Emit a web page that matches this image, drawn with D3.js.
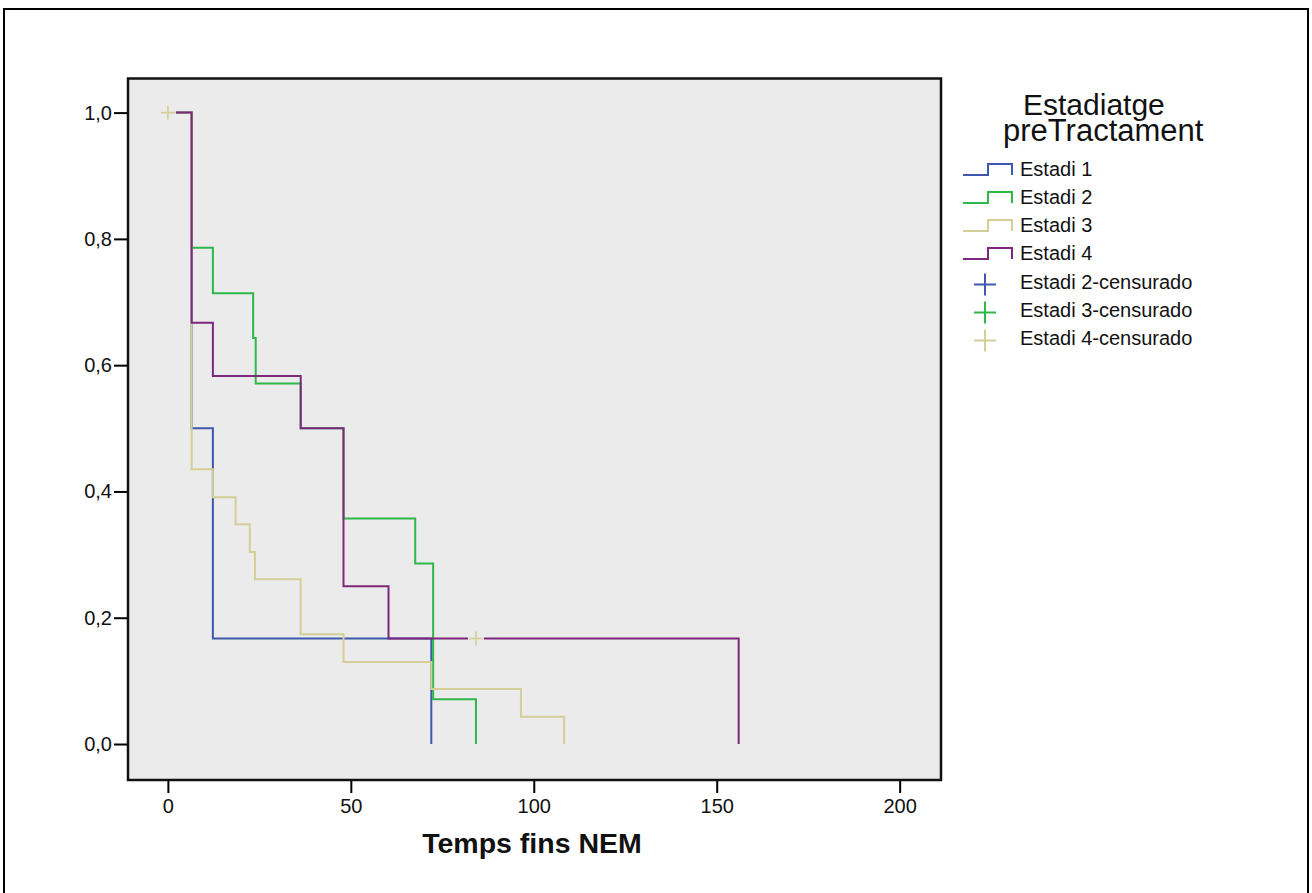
<!DOCTYPE html>
<html>
<head>
<meta charset="utf-8">
<script src="https://cdn.jsdelivr.net/npm/d3@7"></script>
<style>
  body { margin: 0; background: #fff; }
  text { font-family: "Liberation Sans", Arial, sans-serif; fill: #111; }
</style>
</head>
<body>
<div id="chart"></div>
<script>
// Kaplan-Meier steps (time, survival)
const groups = ["Estadi 1", "Estadi 2", "Estadi 3", "Estadi 4"];
const colours = ["#3E58AC", "#2EB848", "#D4CE97", "#7C287D"];

const times1 = [0, 6.5, 12.3, 72];
const surv1 = [1, 0.5, 0.167, 0];

const times2 = [0, 6.5, 12.3, 23.3, 24, 36.3, 48, 67.6, 72.5, 84.2];
const surv2 = [1, 0.786, 0.714, 0.643, 0.571, 0.5, 0.357, 0.286, 0.071, 0];

const times3 = [0, 6.5, 12.3, 18.5, 22.4, 23.8, 36.3, 48, 72, 96.5, 108.3];
const surv3 = [1, 0.435, 0.391, 0.348, 0.304, 0.261, 0.174, 0.130, 0.087, 0.043, 0];

const times4 = [0, 6.5, 12.3, 36.3, 48, 60.3, 156];
const surv4 = [1, 0.667, 0.583, 0.5, 0.25, 0.167, 0];

// censored observations (Estadi 4)
const censTimes = [0, 84.2];
const censSurv = [1, 0.167];

const legendCens = ["Estadi 2-censurado", "Estadi 3-censurado", "Estadi 4-censurado"];
const censColours = ["#3E58AC", "#2EB848", "#D4CE97"];

const xTicks = [0, 50, 100, 150, 200];
const yTicks = [0, 0.2, 0.4, 0.6, 0.8, 1.0];

const series = [
    { times: times1, surv: surv1 },
    { times: times2, surv: surv2 },
    { times: times3, surv: surv3 },
    { times: times4, surv: surv4 }
];

const W = 1312, H = 893;
const plot = { left: 128, right: 941, top: 78.5, bottom: 780 };

const svg = d3.select('#chart')
    .append('svg')
    .attr('width', W)
    .attr('height', H);

// outer frame
svg.append('rect')
    .attr('x', 4).attr('y', 9)
    .attr('width', 1304).attr('height', 900)
    .attr('fill', 'none')
    .attr('stroke', '#000')
    .attr('stroke-width', 2);

const x = d3.scaleLinear()
    .domain([-10.9, 211.3])
    .range([plot.left, plot.right]);

const y = d3.scaleLinear()
    .domain([-0.057, 1.054])
    .range([plot.bottom, plot.top]);

// plot background
svg.append('rect')
    .attr('x', plot.left).attr('y', plot.top)
    .attr('width', plot.right - plot.left)
    .attr('height', plot.bottom - plot.top)
    .attr('fill', '#ebebeb');

const comma = d3.formatLocale({ decimal: ",", thousands: ".", grouping: [3], currency: ["", "€"] });

// X axis
const xAxis = svg.append('g')
    .attr('transform', `translate(0, ${plot.bottom})`)
    .call(d3.axisBottom(x).tickValues(xTicks).tickSize(13).tickPadding(6).tickFormat(d3.format('d')));
xAxis.select('.domain').remove();
xAxis.selectAll('line').attr('stroke', '#000').attr('stroke-width', 2);
xAxis.selectAll('text').style('font-size', '20px').attr('fill', '#111');

// Y axis
const yAxis = svg.append('g')
    .attr('transform', `translate(${plot.left}, 0)`)
    .call(d3.axisLeft(y).tickValues(yTicks).tickSize(14).tickPadding(2).tickFormat(comma.format('.1f')));
yAxis.select('.domain').remove();
yAxis.selectAll('line').attr('stroke', '#000').attr('stroke-width', 2);
yAxis.selectAll('text').style('font-size', '20px').attr('fill', '#111');

// survival curves
const line = d3.line()
    .x(d => x(d[0]))
    .y(d => y(d[1]))
    .curve(d3.curveStepAfter);

series.forEach((s, i) => {
    svg.append('path')
        .datum(s.times.map((t, j) => [t, s.surv[j]]))
        .attr('d', line)
        .attr('fill', 'none')
        .attr('stroke', colours[i])
        .attr('stroke-width', 2);
});

// censored marks, with a small gap cut into the line
censTimes.forEach((t, i) => {
    const cx = x(t), cy = y(censSurv[i]);
    svg.append('rect')
        .attr('x', cx - 8).attr('y', cy - 2.5)
        .attr('width', 16).attr('height', 5)
        .attr('fill', '#ebebeb');
    svg.append('path')
        .attr('d', `M${cx - 7},${cy}H${cx + 7}M${cx},${cy - 7}V${cy + 7}`)
        .attr('stroke', censColours[2])
        .attr('stroke-width', 1.6)
        .attr('fill', 'none');
});

// plot frame
svg.append('rect')
    .attr('x', plot.left).attr('y', plot.top)
    .attr('width', plot.right - plot.left)
    .attr('height', plot.bottom - plot.top)
    .attr('fill', 'none')
    .attr('stroke', '#111')
    .attr('stroke-width', 2.5);

// x axis title
svg.append('text')
    .attr('x', 532).attr('y', 853)
    .attr('text-anchor', 'middle')
    .style('font-size', '28.5px')
    .style('font-weight', 'bold')
    .text('Temps fins NEM');

// legend
svg.append('text')
    .attr('x', 1023).attr('y', 115)
    .style('font-size', '30px')
    .text('Estadiatge');
svg.append('text')
    .attr('x', 1003).attr('y', 141)
    .style('font-size', '31px')
    .text('preTractament');

const rowBase = [176, 204, 232, 260];
groups.forEach((g, i) => {
    const b = rowBase[i];
    svg.append('path')
        .attr('d', `M963,${b - 1}H988V${b - 12}H1012V${b - 1}`)
        .attr('fill', 'none')
        .attr('stroke', colours[i])
        .attr('stroke-width', 2);
    svg.append('text')
        .attr('x', 1020).attr('y', b)
        .style('font-size', '20px')
        .text(g);
});

const censBase = [289, 317, 345];
legendCens.forEach((g, i) => {
    const b = censBase[i];
    const cx = 985, cy = b - 4.5;
    svg.append('path')
        .attr('d', `M${cx - 11},${cy}H${cx + 11}M${cx},${cy - 11}V${cy + 11}`)
        .attr('stroke', censColours[i])
        .attr('stroke-width', 2)
        .attr('fill', 'none');
    svg.append('text')
        .attr('x', 1020).attr('y', b)
        .style('font-size', '20px')
        .text(g);
});
</script>
</body>
</html>
